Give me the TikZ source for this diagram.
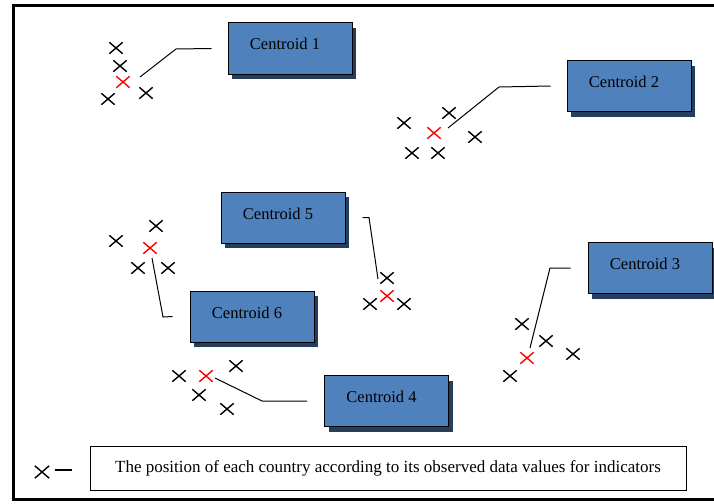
\documentclass[tikz,border=0pt]{standalone}
\usepackage{fontspec}
\setmainfont{Liberation Serif}
\usetikzlibrary{shapes.misc,shadows}
\definecolor{boxblue}{RGB}{79,129,189}
\definecolor{boxshade}{RGB}{38,62,94}
\begin{document}
\begin{tikzpicture}[x=1pt,y=-1pt,
	obs/.style={cross out,draw=black,line width=1.4pt,minimum width=12pt,minimum height=10pt,inner sep=0pt},
	cen/.style={obs,draw=red},
	cbox/.style={draw=black,line width=1pt,fill=boxblue,minimum width=124pt,minimum height=51pt,inner sep=0pt,
		text height=12pt,text depth=9pt,font=\fontsize{16.5}{20}\selectfont,
		drop shadow={shadow xshift=4pt,shadow yshift=-5pt,opacity=1,fill=boxshade}},
	leader/.style={line width=1pt}]
	  \useasboundingbox (0,0) rectangle (714,503);
	  \draw[line width=3pt] (730,5.5) -- (13,5.5) -- (13,499) -- (730,499);
	  \node[cbox] (c1) at (290,48.5) {Centroid 1\hspace*{10pt}};
	  \node[cbox] (c2) at (629,86) {Centroid 2\hspace*{10pt}};
	  \node[cbox] (c3) at (650,268) {Centroid 3\hspace*{10pt}};
	  \node[cbox] (c4) at (386.5,401) {Centroid 4\hspace*{10pt}};
	  \node[cbox] (c5) at (283,217.5) {Centroid 5\hspace*{10pt}};
	  \node[cbox] (c6) at (252,316.5) {Centroid 6\hspace*{10pt}};
	  \node[obs] (a1) at (116,48) {};
	  \node[obs] (a2) at (120,66) {};
	  \node[cen] (r1) at (123,82) {};
	  \node[obs] (a3) at (108,99) {};
	  \node[obs] (a4) at (146,93) {};
	  \node[obs] (b1) at (449,113) {};
	  \node[obs] (b2) at (404,123) {};
	  \node[cen] (r2) at (434,133) {};
	  \node[obs] (b3) at (475,137) {};
	  \node[obs] (b4) at (412,153) {};
	  \node[obs] (b5) at (438,153) {};
	  \node[obs] (e1) at (522,324) {};
	  \node[obs] (e2) at (546,341) {};
	  \node[cen] (r3) at (527,358) {};
	  \node[obs] (e3) at (573,354) {};
	  \node[obs] (e4) at (510,376) {};
	  \node[obs] (d1) at (179,376) {};
	  \node[cen] (r4) at (206,376) {};
	  \node[obs] (d2) at (236,366) {};
	  \node[obs] (d3) at (199,395) {};
	  \node[obs] (d4) at (227,409) {};
	  \node[obs] (f1) at (387,278) {};
	  \node[cen] (r5) at (387,296) {};
	  \node[obs] (f2) at (370,304) {};
	  \node[obs] (f3) at (404,304) {};
	  \node[obs] (g1) at (156,226) {};
	  \node[obs] (g2) at (116,241) {};
	  \node[cen] (r6) at (150,248) {};
	  \node[obs] (g3) at (138,268) {};
	  \node[obs] (g4) at (168,268) {};
	  \coordinate (l1) at (140,77);
	  \coordinate (l2) at (448,128);
	  \coordinate (l3) at (530,348);
	  \coordinate (l4) at (215,378);
	  \coordinate (l5) at (378,279);
	  \coordinate (l6) at (152,258);
	  \draw[leader] (l1) -- (176,49) -- ([xshift=-16pt]c1.west);
	  \draw[leader] (l2) -- (499,87) -- ([xshift=-16pt]c2.west);
	  \draw[leader] (l3) -- (550,268) -- ([xshift=-17pt]c3.west);
	  \draw[leader] (l4) -- (262,401) -- ([xshift=-17pt]c4.west);
	  \draw[leader] (l5) -- (369,217.5) -- ([xshift=17pt]c5.east);
	  \draw[leader] (l6) -- (163,317) -- ([xshift=-17pt]c6.west);
	  \node[obs,minimum width=13pt,minimum height=11pt] (lx) at (42,472) {};
	  \coordinate (ld) at (55,470);
	  \draw[line width=1.3pt] (ld) -- ++(17,0);
	  \node[draw=black,line width=1pt,minimum width=596pt,minimum height=44pt,font=\fontsize{17}{20}\selectfont] (legend) at (388,468)
	    {The position of each country according to its observed data values for indicators};
	\end{tikzpicture}
\end{document}
